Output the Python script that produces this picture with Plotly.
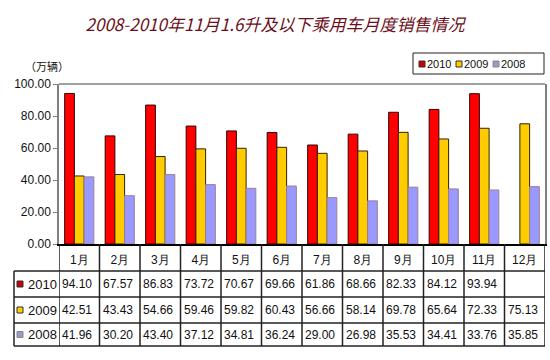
import plotly.graph_objects as go

months = ["1月", "2月", "3月", "4月", "5月", "6月", "7月", "8月", "9月", "10月", "11月", "12月"]
s2010 = [94.10, 67.57, 86.83, 73.72, 70.67, 69.66, 61.86, 68.66, 82.33, 84.12, 93.94, None]
s2009 = [42.51, 43.43, 54.66, 59.46, 59.82, 60.43, 56.66, 58.14, 69.78, 65.64, 72.33, 75.13]
s2008 = [41.96, 30.20, 43.40, 37.12, 34.81, 36.24, 29.00, 26.98, 35.53, 34.41, 33.76, 35.85]
series_names = ["2010", "2009", "2008"]
title_text = "2008-2010年11月1.6升及以下乘用车月度销售情况"
unit_text = "（万辆）"

W, H = 550, 360
L, R, T, B = 59, 5, 84, 116
PW, PH = W - L - R, H - T - B

def px(x):
    return (x - L) / PW

def py(y):
    return (H - B - y) / PH

fills = ["#FF0000", "#FFCC00", "#9999FF"]
edges = ["#330000", "#332200", "#A08090"]
legend_fills = ["#CC0000", "#FFCC00", "#9999CC"]
legend_edges = ["#333333", "#333333", "#888888"]

fig = go.Figure()
for name, vals, fc, ec in zip(series_names, [s2010, s2009, s2008], fills, edges):
    fig.add_trace(go.Bar(
        x=list(range(len(months))), y=vals, name=name,
        marker=dict(color=fc, line=dict(color=ec, width=1)),
        showlegend=False, hoverinfo="skip"))

fnt = "Liberation Sans, Arial, sans-serif"
fig.update_layout(
    width=W, height=H,
    margin=dict(l=L, r=R, t=T, b=B, autoexpand=False),
    paper_bgcolor="white", plot_bgcolor="white",
    barmode="group", bargap=0.28, bargroupgap=0,
    title=dict(text=title_text, x=0.5, xref="container", xanchor="center",
               y=1 - 25 / H, yref="container", yanchor="middle",
               font=dict(family="Noto Sans CJK SC", size=17, color="#6B0F1A", style="italic")),
    xaxis=dict(range=[-0.5, len(months) - 0.5], tickmode="array",
               tickvals=list(range(len(months))), ticktext=months,
               showline=True, linecolor="#000000", linewidth=1.5, ticks="",
               showgrid=False, zeroline=False, ticklabelstandoff=4,
               tickfont=dict(family=fnt, size=12, color="#111111")),
    yaxis=dict(range=[0, 100], dtick=20, tickformat=".2f",
               showline=True, linecolor="#808080", linewidth=1.5, mirror=True,
               ticks="outside", ticklen=4, tickcolor="#808080",
               showgrid=False, zeroline=False,
               tickfont=dict(family=fnt, size=12, color="#111111")),
)

shapes = []
ann = []
line_c = "#222222"
shapes.append(dict(type="line", xref="paper", yref="paper", x0=0, x1=1, y0=1, y1=1,
                   line=dict(color="#808080", width=1.5)))
for yy in [271, 297, 323, 346]:
    shapes.append(dict(type="line", xref="paper", yref="paper", x0=px(14), x1=1,
                       y0=py(yy), y1=py(yy), line=dict(color=line_c, width=1.5)))
shapes.append(dict(type="line", xref="paper", yref="paper", x0=px(14), x1=px(14),
                   y0=py(271), y1=py(346), line=dict(color=line_c, width=1.5)))
for k in range(len(months) + 1):
    shapes.append(dict(type="line", xref="x", yref="paper", x0=k - 0.5, x1=k - 0.5,
                       y0=0, y1=py(346), line=dict(color=line_c, width=1.5)))

row_centers = [284, 310, 334.5]
for name, vals, fc, ec, yc in zip(series_names, [s2010, s2009, s2008],
                                  legend_fills, legend_edges, row_centers):
    shapes.append(dict(type="rect", xref="paper", yref="paper",
                       x0=px(17), x1=px(23), y0=py(yc - 3), y1=py(yc + 3),
                       fillcolor=fc, line=dict(color=ec, width=1)))
    ann.append(dict(text=name, xref="paper", yref="paper", x=px(26), y=py(yc),
                    xanchor="left", yanchor="middle", showarrow=False,
                    font=dict(family=fnt, size=13, color="#111111")))
    for i, v in enumerate(vals):
        if v is None:
            continue
        ann.append(dict(text=f"{v:.2f}", xref="x", yref="paper", x=i - 0.5, y=py(yc),
                        xanchor="left", yanchor="middle", showarrow=False, xshift=1,
                        font=dict(family=fnt, size=12, color="#111111")))

shapes.append(dict(type="rect", xref="paper", yref="paper", x0=px(413), x1=px(544),
                   y0=py(74), y1=py(53), fillcolor="white",
                   line=dict(color="#222222", width=1)))
leg_x = [419, 456, 493]
for name, fc, ec, lx in zip(series_names, legend_fills, legend_edges, leg_x):
    shapes.append(dict(type="rect", xref="paper", yref="paper",
                       x0=px(lx), x1=px(lx + 6), y0=py(67), y1=py(61),
                       fillcolor=fc, line=dict(color=ec, width=1)))
    ann.append(dict(text=name, xref="paper", yref="paper", x=px(lx + 6), y=py(64),
                    xanchor="left", yanchor="middle", showarrow=False,
                    font=dict(family=fnt, size=11, color="#111111")))

ann.append(dict(text=unit_text, xref="paper", yref="paper", x=px(47), y=py(66),
                xanchor="center", yanchor="middle", showarrow=False,
                font=dict(family="Noto Sans CJK SC", size=11, color="#111111")))

fig.update_layout(shapes=shapes, annotations=ann)
fig.write_html("out.html", config={"displayModeBar": False},
               post_script="document.body.style.margin='0';document.body.style.overflow='hidden';")
